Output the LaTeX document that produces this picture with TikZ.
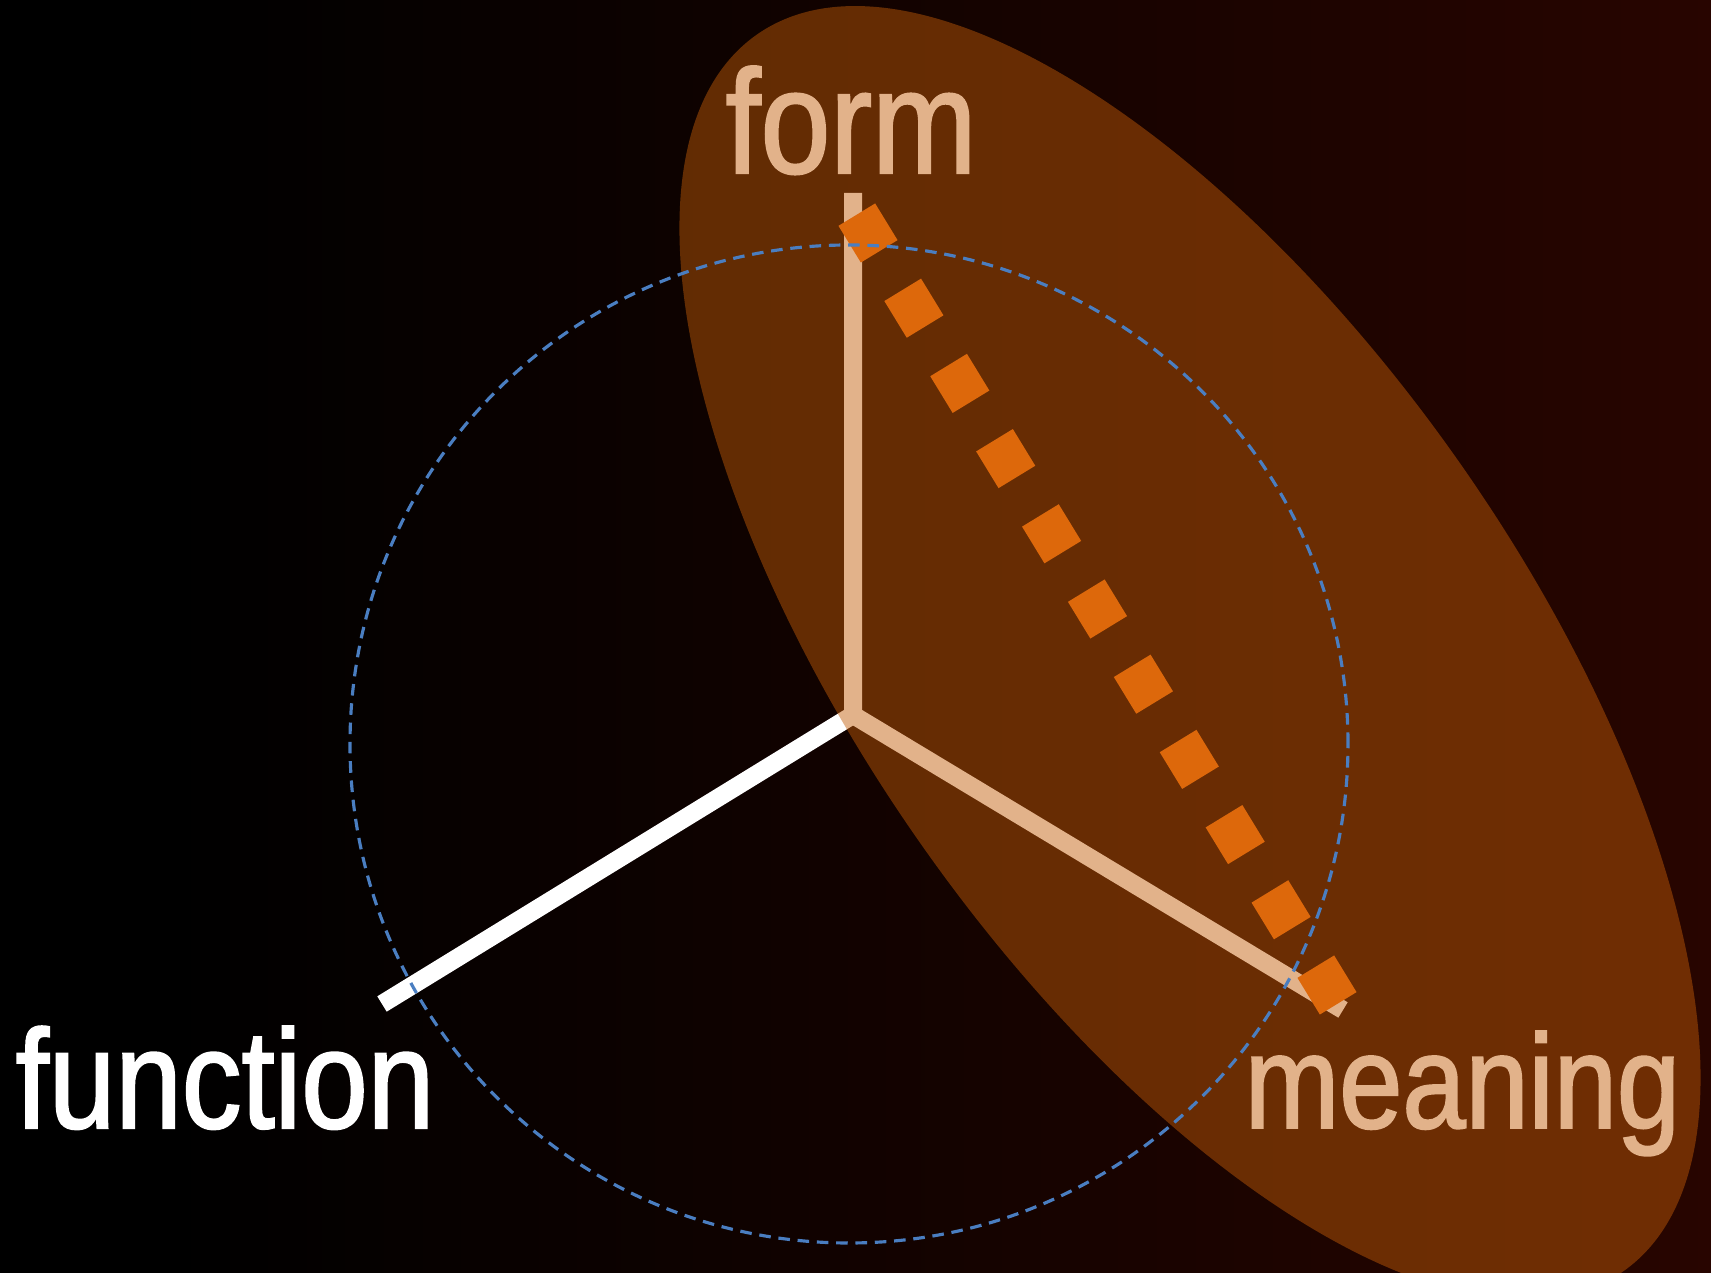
\documentclass[tikz,border=0pt]{standalone}
\usepackage{fontspec}
\setmainfont{Liberation Sans}[FakeStretch=0.85, FakeBold=1.5]
\definecolor{bgred}{RGB}{62,8,0}
\definecolor{axisblue}{RGB}{74,126,193}
\definecolor{dotorange}{RGB}{195,92,8}
\definecolor{sqorange}{RGB}{245,115,15}
\pgfdeclarehorizontalshading{bgfade}{100bp}{color(0bp)=(black); color(30bp)=(black); color(100bp)=(bgred)}

\begin{document}
\begin{tikzpicture}[
  axisline/.style={white, line width=1.8mm},
  ring/.style={axisblue, line width=0.9pt, dash pattern=on 3.3pt off 2.2pt},
  sq/.style={rectangle, fill=sqorange, minimum size=4.3mm, inner sep=0pt,
             rotate=31.4},
  lbl/.style={white, inner sep=0pt, anchor=base west},
  hatch/.style={fill=dotorange, fill opacity=0.47}
]
  % Background
  \shade[shading=bgfade] (0,0) rectangle (17.11,12.73);
  \useasboundingbox (0,0) rectangle (17.11,12.73);

  % Axes
  \coordinate (O) at (8.53,5.58);
  \coordinate (F) at (8.53,10.80);
  \coordinate (L) at (3.82,2.69);
  \coordinate (R) at (13.43,2.63);
  \draw[axisline] (F) -- (O) -- (R);
  \draw[axisline] (O) -- (L);

  % Dotted path form -> meaning
  \foreach \k in {0,...,10} {
    \node[sq] (s\k) at ({8.68+0.459*\k}, {10.40-0.752*\k}) {};
  }

  % Labels
  \node[lbl, font=\fontsize{42}{50}\selectfont] (form) at (7.25,11.00) {form};
  \node[lbl, font=\fontsize{40}{48}\selectfont] (function) at (0.15,1.45) {function};
  \node[lbl, font=\fontsize{38}{46}\selectfont] (meaning) at (12.44,1.45) {meaning};

  % Highlight
  \fill[hatch, rotate around={-55:(11.90,6.20)}]
    (11.90,6.20) ellipse [x radius=7.55, y radius=3.3];

  % Circle
  \draw[ring] (8.49,5.29) circle [radius=4.99];
\end{tikzpicture}
\end{document}
